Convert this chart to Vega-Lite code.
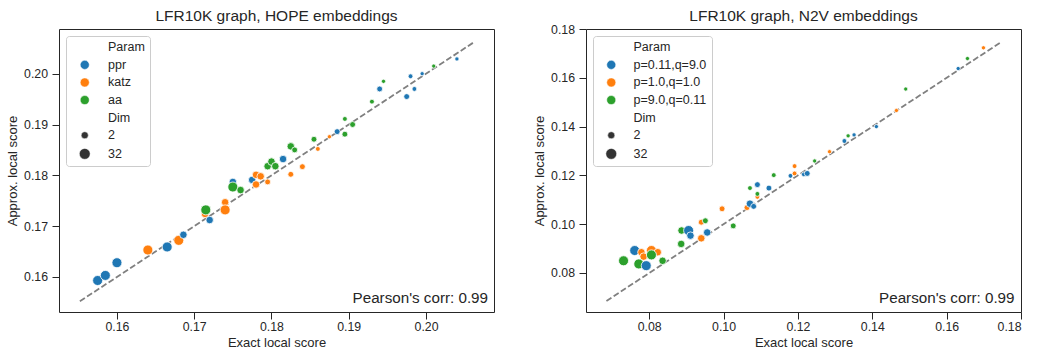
{
  "$schema": "https://vega.github.io/schema/vega-lite/v6.json",
  "padding": {"left": 6, "top": 8, "right": 5, "bottom": 2},
  "spacing": 38,
  "config": {
    "font": "Liberation Sans",
    "view": {"stroke": "#262626", "strokeWidth": 1},
    "axis": {"domain": false, "grid": false, "tickColor": "#262626", "tickSize": 7, "tickWidth": 1, "labelFontSize": 12.3, "labelColor": "#262626", "titleFontSize": 13, "titleColor": "#262626", "titleFontWeight": "normal"},
    "axisX": {"labelPadding": 1.5},
    "axisY": {"labelPadding": 4.5},
    "title": {"fontSize": 15.5, "fontWeight": "normal", "color": "#262626"},
    "legend": {"title": null, "orient": "top-left", "offset": 7, "padding": 5, "strokeColor": "#cccccc", "fillColor": "white", "cornerRadius": 3, "labelFontSize": 12.5, "labelColor": "#262626", "rowPadding": 4.6, "symbolType": "circle", "symbolStrokeColor": "white", "symbolStrokeWidth": 0.5, "symbolSize": {"expr": "datum.index == 6 ? 118 : datum.index == 5 ? 50 : 82"}}
  },
  "hconcat": [
    {
      "width": 435,
      "height": 283,
      "title": {"text": "LFR10K graph, HOPE embeddings", "offset": 5},
      "layer": [
        {
          "data": {"values": [{"exact": 0.1552, "approx": 0.1552}, {"exact": 0.2063, "approx": 0.2063}]},
          "mark": {"type": "line", "color": "#808080", "strokeDash": [6, 2.6], "strokeWidth": 1.8},
          "encoding": {
            "x": {"field": "exact", "type": "quantitative", "scale": {"domain": [0.1525, 0.2088], "nice": false, "zero": false}, "axis": {"title": "Exact local score", "values": [0.16, 0.17, 0.18, 0.19, 0.2], "format": ".2f"}},
            "y": {"field": "approx", "type": "quantitative", "scale": {"domain": [0.1531, 0.2088], "nice": false, "zero": false}, "axis": {"title": "Approx. local score", "values": [0.16, 0.17, 0.18, 0.19, 0.2], "format": ".2f"}}
          }
        },
        {
          "data": {"values": [
            {"exact": 0.1575, "approx": 0.1593, "Param": "ppr", "Dim": 32},
            {"exact": 0.1585, "approx": 0.1603, "Param": "ppr", "Dim": 32},
            {"exact": 0.1600, "approx": 0.1628, "Param": "ppr", "Dim": 32},
            {"exact": 0.1640, "approx": 0.1653, "Param": "katz", "Dim": 32},
            {"exact": 0.1665, "approx": 0.1659, "Param": "ppr", "Dim": 32},
            {"exact": 0.1680, "approx": 0.1672, "Param": "katz", "Dim": 32},
            {"exact": 0.1686, "approx": 0.1683, "Param": "ppr", "Dim": 16},
            {"exact": 0.1714, "approx": 0.1724, "Param": "katz", "Dim": 16},
            {"exact": 0.1715, "approx": 0.1732, "Param": "aa", "Dim": 32},
            {"exact": 0.1720, "approx": 0.1712, "Param": "ppr", "Dim": 16},
            {"exact": 0.1740, "approx": 0.1747, "Param": "katz", "Dim": 16},
            {"exact": 0.1740, "approx": 0.1732, "Param": "katz", "Dim": 32},
            {"exact": 0.1750, "approx": 0.1787, "Param": "ppr", "Dim": 16},
            {"exact": 0.1750, "approx": 0.1777, "Param": "aa", "Dim": 32},
            {"exact": 0.1760, "approx": 0.1771, "Param": "aa", "Dim": 16},
            {"exact": 0.1775, "approx": 0.1791, "Param": "ppr", "Dim": 16},
            {"exact": 0.1780, "approx": 0.1801, "Param": "katz", "Dim": 16},
            {"exact": 0.1780, "approx": 0.1782, "Param": "katz", "Dim": 16},
            {"exact": 0.1786, "approx": 0.1798, "Param": "katz", "Dim": 16},
            {"exact": 0.1795, "approx": 0.1787, "Param": "katz", "Dim": 8},
            {"exact": 0.1795, "approx": 0.1818, "Param": "aa", "Dim": 16},
            {"exact": 0.1800, "approx": 0.1827, "Param": "aa", "Dim": 16},
            {"exact": 0.1805, "approx": 0.1818, "Param": "aa", "Dim": 16},
            {"exact": 0.1815, "approx": 0.1832, "Param": "ppr", "Dim": 16},
            {"exact": 0.1825, "approx": 0.1857, "Param": "aa", "Dim": 16},
            {"exact": 0.1830, "approx": 0.1850, "Param": "aa", "Dim": 8},
            {"exact": 0.1825, "approx": 0.1802, "Param": "katz", "Dim": 8},
            {"exact": 0.1840, "approx": 0.1817, "Param": "katz", "Dim": 8},
            {"exact": 0.1855, "approx": 0.1871, "Param": "aa", "Dim": 8},
            {"exact": 0.1860, "approx": 0.1852, "Param": "katz", "Dim": 4},
            {"exact": 0.1875, "approx": 0.1876, "Param": "katz", "Dim": 2},
            {"exact": 0.1885, "approx": 0.1886, "Param": "ppr", "Dim": 8},
            {"exact": 0.1895, "approx": 0.1881, "Param": "aa", "Dim": 8},
            {"exact": 0.1895, "approx": 0.1911, "Param": "aa", "Dim": 4},
            {"exact": 0.1905, "approx": 0.1900, "Param": "aa", "Dim": 8},
            {"exact": 0.1930, "approx": 0.1945, "Param": "aa", "Dim": 4},
            {"exact": 0.1940, "approx": 0.1970, "Param": "ppr", "Dim": 8},
            {"exact": 0.1945, "approx": 0.1985, "Param": "aa", "Dim": 2},
            {"exact": 0.1975, "approx": 0.1955, "Param": "ppr", "Dim": 8},
            {"exact": 0.1985, "approx": 0.1970, "Param": "ppr", "Dim": 4},
            {"exact": 0.1980, "approx": 0.1995, "Param": "ppr", "Dim": 4},
            {"exact": 0.1995, "approx": 0.2000, "Param": "ppr", "Dim": 2},
            {"exact": 0.2010, "approx": 0.2015, "Param": "aa", "Dim": 2},
            {"exact": 0.2040, "approx": 0.2029, "Param": "ppr", "Dim": 2}
          ]},
          "mark": {"type": "circle", "opacity": 1, "stroke": "white", "strokeWidth": 0.8},
          "encoding": {
            "x": {"field": "exact", "type": "quantitative"},
            "y": {"field": "approx", "type": "quantitative"},
            "color": {"field": "Param", "type": "nominal", "scale": {"domain": ["Param", "ppr", "katz", "aa", "Dim", "2", "32"], "range": ["transparent", "#1f77b4", "#ff7f0e", "#2ca02c", "transparent", "#333333", "#333333"]},
              "legend": {"symbolOffset": 7.5, "labelOffset": 17, "encode": {"symbols": {"size": {"value": {"expr": "datum.index == 6 ? 118 : datum.index == 5 ? 50 : 82"}}}}}},
            "size": {"field": "Dim", "type": "quantitative", "scale": {"domain": [2, 32], "range": [18, 100]}, "legend": null}
          }
        },
        {
          "data": {"values": [{}]},
          "mark": {"type": "text", "text": "Pearson's corr: 0.99", "align": "right", "baseline": "alphabetic", "dx": -6, "dy": -9, "fontSize": 15.2, "color": "#262626"},
          "encoding": {"x": {"datum": 0.2088}, "y": {"datum": 0.1531}}
        }
      ]
    },
    {
      "width": 435,
      "height": 283,
      "title": {"text": "LFR10K graph, N2V embeddings", "offset": -1},
      "layer": [
        {
          "data": {"values": [{"exact": 0.0685, "approx": 0.0685}, {"exact": 0.1746, "approx": 0.1746}]},
          "mark": {"type": "line", "color": "#808080", "strokeDash": [6, 2.6], "strokeWidth": 1.8},
          "encoding": {
            "x": {"field": "exact", "type": "quantitative", "scale": {"domain": [0.063, 0.18], "nice": false, "zero": false}, "axis": {"title": "Exact local score", "values": [0.08, 0.1, 0.12, 0.14, 0.16, 0.18], "format": ".2f"}},
            "y": {"field": "approx", "type": "quantitative", "scale": {"domain": [0.064, 0.18], "nice": false, "zero": false}, "axis": {"title": "Approx. local score", "values": [0.08, 0.1, 0.12, 0.14, 0.16, 0.18], "format": ".2f"}}
          }
        },
        {
          "data": {"values": [
            {"exact": 0.0761, "approx": 0.0892, "Param": "p=0.11,q=9.0", "Dim": 32},
            {"exact": 0.0779, "approx": 0.0885, "Param": "p=1.0,q=1.0", "Dim": 16},
            {"exact": 0.0806, "approx": 0.0892, "Param": "p=1.0,q=1.0", "Dim": 32},
            {"exact": 0.0823, "approx": 0.0885, "Param": "p=1.0,q=1.0", "Dim": 16},
            {"exact": 0.0785, "approx": 0.0867, "Param": "p=1.0,q=1.0", "Dim": 16},
            {"exact": 0.0731, "approx": 0.0850, "Param": "p=9.0,q=0.11", "Dim": 32},
            {"exact": 0.0772, "approx": 0.0837, "Param": "p=9.0,q=0.11", "Dim": 32},
            {"exact": 0.0806, "approx": 0.0874, "Param": "p=9.0,q=0.11", "Dim": 32},
            {"exact": 0.0792, "approx": 0.0830, "Param": "p=0.11,q=9.0", "Dim": 32},
            {"exact": 0.0836, "approx": 0.0850, "Param": "p=9.0,q=0.11", "Dim": 16},
            {"exact": 0.0886, "approx": 0.0919, "Param": "p=9.0,q=0.11", "Dim": 16},
            {"exact": 0.0887, "approx": 0.0974, "Param": "p=9.0,q=0.11", "Dim": 16},
            {"exact": 0.0906, "approx": 0.0974, "Param": "p=0.11,q=9.0", "Dim": 32},
            {"exact": 0.0911, "approx": 0.0953, "Param": "p=0.11,q=9.0", "Dim": 16},
            {"exact": 0.0940, "approx": 0.0942, "Param": "p=1.0,q=1.0", "Dim": 16},
            {"exact": 0.0956, "approx": 0.0966, "Param": "p=0.11,q=9.0", "Dim": 16},
            {"exact": 0.0940, "approx": 0.1008, "Param": "p=1.0,q=1.0", "Dim": 8},
            {"exact": 0.0951, "approx": 0.1014, "Param": "p=9.0,q=0.11", "Dim": 8},
            {"exact": 0.0996, "approx": 0.1063, "Param": "p=1.0,q=1.0", "Dim": 8},
            {"exact": 0.1026, "approx": 0.0993, "Param": "p=9.0,q=0.11", "Dim": 8},
            {"exact": 0.1063, "approx": 0.1068, "Param": "p=1.0,q=1.0", "Dim": 8},
            {"exact": 0.1071, "approx": 0.1084, "Param": "p=0.11,q=9.0", "Dim": 16},
            {"exact": 0.1081, "approx": 0.1073, "Param": "p=0.11,q=9.0", "Dim": 8},
            {"exact": 0.1071, "approx": 0.1148, "Param": "p=9.0,q=0.11", "Dim": 4},
            {"exact": 0.1091, "approx": 0.1112, "Param": "p=1.0,q=1.0", "Dim": 4},
            {"exact": 0.1091, "approx": 0.1124, "Param": "p=9.0,q=0.11", "Dim": 4},
            {"exact": 0.1091, "approx": 0.1162, "Param": "p=0.11,q=9.0", "Dim": 8},
            {"exact": 0.1122, "approx": 0.1148, "Param": "p=0.11,q=9.0", "Dim": 8},
            {"exact": 0.1135, "approx": 0.1201, "Param": "p=9.0,q=0.11", "Dim": 4},
            {"exact": 0.1180, "approx": 0.1198, "Param": "p=0.11,q=9.0", "Dim": 4},
            {"exact": 0.1191, "approx": 0.1238, "Param": "p=1.0,q=1.0", "Dim": 4},
            {"exact": 0.1191, "approx": 0.1208, "Param": "p=1.0,q=1.0", "Dim": 4},
            {"exact": 0.1216, "approx": 0.1204, "Param": "p=0.11,q=9.0", "Dim": 4},
            {"exact": 0.1225, "approx": 0.1208, "Param": "p=0.11,q=9.0", "Dim": 8},
            {"exact": 0.1245, "approx": 0.1259, "Param": "p=9.0,q=0.11", "Dim": 2},
            {"exact": 0.1285, "approx": 0.1297, "Param": "p=1.0,q=1.0", "Dim": 2},
            {"exact": 0.1325, "approx": 0.1341, "Param": "p=0.11,q=9.0", "Dim": 4},
            {"exact": 0.1335, "approx": 0.1362, "Param": "p=9.0,q=0.11", "Dim": 2},
            {"exact": 0.1351, "approx": 0.1366, "Param": "p=0.11,q=9.0", "Dim": 2},
            {"exact": 0.1411, "approx": 0.1400, "Param": "p=0.11,q=9.0", "Dim": 2},
            {"exact": 0.1465, "approx": 0.1466, "Param": "p=1.0,q=1.0", "Dim": 2},
            {"exact": 0.1490, "approx": 0.1554, "Param": "p=9.0,q=0.11", "Dim": 2},
            {"exact": 0.1631, "approx": 0.1638, "Param": "p=0.11,q=9.0", "Dim": 2},
            {"exact": 0.1656, "approx": 0.1679, "Param": "p=9.0,q=0.11", "Dim": 2},
            {"exact": 0.1699, "approx": 0.1723, "Param": "p=1.0,q=1.0", "Dim": 2}
          ]},
          "mark": {"type": "circle", "opacity": 1, "stroke": "white", "strokeWidth": 0.8},
          "encoding": {
            "x": {"field": "exact", "type": "quantitative"},
            "y": {"field": "approx", "type": "quantitative"},
            "color": {"field": "Param", "type": "nominal", "scale": {"domain": ["Param", "p=0.11,q=9.0", "p=1.0,q=1.0", "p=9.0,q=0.11", "Dim", "2", "32"], "range": ["transparent", "#1f77b4", "#ff7f0e", "#2ca02c", "transparent", "#333333", "#333333"]},
              "legend": {"symbolOffset": 7, "labelOffset": 16, "encode": {"symbols": {"size": {"value": {"expr": "datum.index == 6 ? 118 : datum.index == 5 ? 50 : 82"}}}}}},
            "size": {"field": "Dim", "type": "quantitative", "scale": {"domain": [2, 32], "range": [18, 100]}, "legend": null}
          }
        },
        {
          "data": {"values": [{}]},
          "mark": {"type": "text", "text": "Pearson's corr: 0.99", "align": "right", "baseline": "alphabetic", "dx": -6.5, "dy": -9, "fontSize": 15.2, "color": "#262626"},
          "encoding": {"x": {"datum": 0.18}, "y": {"datum": 0.064}}
        }
      ]
    }
  ],
  "resolve": {"scale": {"color": "independent", "size": "independent"}, "legend": {"color": "independent", "size": "independent"}}
}
